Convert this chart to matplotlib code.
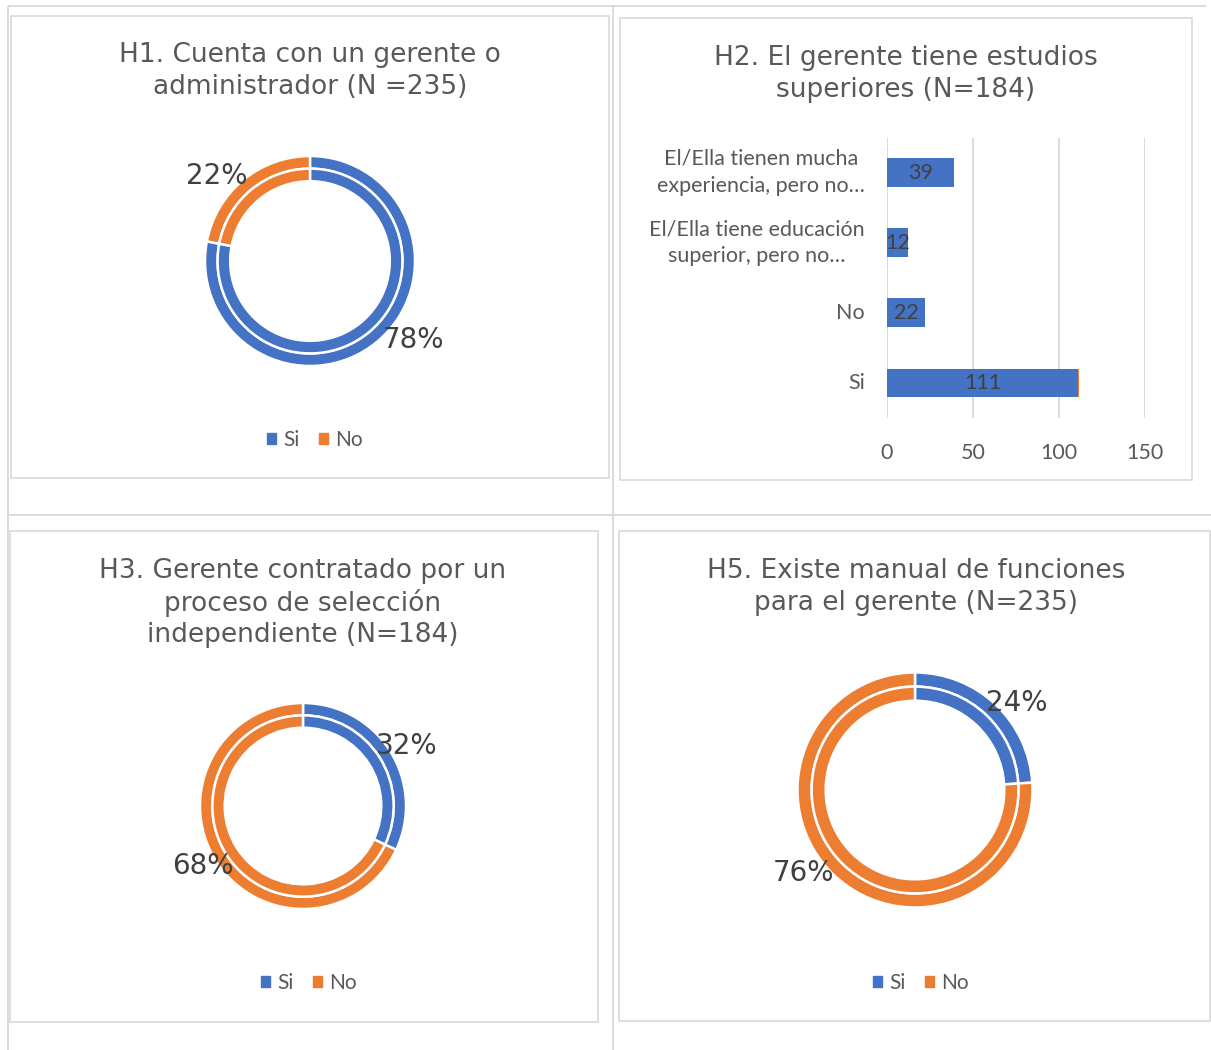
import matplotlib.pyplot as plt
import numpy as np
from matplotlib.patches import Patch, Rectangle

W, H = 1211, 1050
DPI = 100

BLUE = "#4472C4"
ORANGE = "#ED7D31"
LINE = "#D9D9D9"
TITLE_C = "#595959"
LABEL_C = "#404040"
TITLE_FONT = "DejaVu Sans"
BODY_FONT = "Lato"

# ---- data -------------------------------------------------------------
donut_labels = ["Si", "No"]
h1_share = [78, 22]
h3_share = [32, 68]
h5_share = [24, 76]

h1_title = "H1. Cuenta con un gerente o\nadministrador (N =235)"
h2_title = "H2. El gerente tiene estudios\nsuperiores (N=184)"
h3_title = "H3. Gerente contratado por un\nproceso de selección\nindependiente (N=184)"
h5_title = "H5. Existe manual de funciones\npara el gerente (N=235)"

h2_categories = [
    "Si",
    "No",
    "El/Ella tiene educación\nsuperior, pero no…",
    "El/Ella tienen mucha\nexperiencia, pero no…",
]
h2_counts = [111, 22, 12, 39]
h2_other = [0.4, 0, 0, 0]
h2_ticks = [0, 50, 100, 150]

HOLE = 0.76


def px_axes(fig, x0, y0, x1, y1):
    """Axes placed by pixel box (origin top-left)."""
    return fig.add_axes([x0 / W, 1 - y1 / H, (x1 - x0) / W, (y1 - y0) / H])


def draw_donut(fig, cx, cy, radius, shares, label_spots):
    half = 170
    ax = px_axes(fig, cx - half, cy - half, cx + half, cy + half)
    ring = radius * (1 - HOLE) / 2
    for r in (radius, radius - ring):
        ax.pie(
            shares,
            radius=r,
            startangle=90,
            counterclock=False,
            colors=[BLUE, ORANGE],
            wedgeprops={"width": ring, "edgecolor": "white", "linewidth": 1.8},
        )
    ax.set_xlim(-half, half)
    ax.set_ylim(-half, half)
    ax.set_aspect("equal")
    ax.axis("off")

    # labels sit near the middle of each slice, nudged like the original
    total = float(sum(shares))
    start = 90.0
    for share, (dist, nudge) in zip(shares, label_spots):
        mid = start - 360.0 * share / total / 2
        ang = np.deg2rad(mid + nudge)
        ax.text(dist * np.cos(ang), dist * np.sin(ang), f"{share / total:.0%}",
                ha="center", va="center", fontsize=20, color=LABEL_C,
                family=TITLE_FONT)
        start -= 360.0 * share / total
    return ax


def add_legend(fig, cx, cy):
    handles = [Patch(color=BLUE, label=donut_labels[0]),
               Patch(color=ORANGE, label=donut_labels[1])]
    fig.legend(
        handles=handles,
        loc="center",
        bbox_to_anchor=(cx / W, 1 - cy / H),
        ncol=2,
        frameon=False,
        handlelength=0.45,
        handleheight=0.45,
        handletextpad=0.35,
        columnspacing=0.9,
        borderpad=0,
        prop={"family": BODY_FONT, "size": 15},
        labelcolor=TITLE_C,
    )


fig = plt.figure(figsize=(W / DPI, H / DPI), dpi=DPI)
fig.patch.set_facecolor("white")

bg = px_axes(fig, 0, 0, W, H)
bg.set_xlim(0, W)
bg.set_ylim(H, 0)
bg.axis("off")

# table grid of the page
bg.hlines([5.5], 7.5, 1206, color=LINE, lw=1.3)
bg.hlines([515], 7.5, W, color=LINE, lw=1.3)
bg.vlines([7.5, 613], 5.5, H, color=LINE, lw=1.3)

# chart-area frames
for x0, y0, x1, y1 in [(10.5, 15.5, 609, 478), (620, 18, 1192, 480),
                       (9.5, 531, 597.5, 1021.5), (619, 531, 1210, 1021)]:
    bg.add_patch(Rectangle((x0, y0), x1 - x0, y1 - y0, fill=False,
                           edgecolor=LINE, lw=1.2))

# titles
for cx, cy, txt in [(310, 71, h1_title), (906, 74, h2_title),
                    (303, 603, h3_title), (916, 587, h5_title)]:
    bg.text(cx, cy, txt, ha="center", va="center", fontsize=19,
            color=TITLE_C, family=TITLE_FONT, linespacing=1.26)

# ---- donuts -----------------------------------------------------------
draw_donut(fig, 310, 261, 105, h1_share, [(130, 12.9), (126, 8.0)])
draw_donut(fig, 303, 806, 103, h3_share, [(120, -2.4), (117, -1.4)])
draw_donut(fig, 915, 790, 117.5, h5_share, [(134, -6.3), (139, -10.3)])

add_legend(fig, 315, 440)
add_legend(fig, 309, 983)
add_legend(fig, 921, 983)

# ---- H2 horizontal bars -----------------------------------------------
ax = px_axes(fig, 887, 137.5, 1145, 418)
ypos = np.arange(len(h2_categories))
bars = ax.barh(ypos, h2_counts, height=0.41, color=BLUE, zorder=2)
ax.barh(ypos, h2_other, left=h2_counts, height=0.41, color=ORANGE, zorder=2)
ax.bar_label(bars, label_type="center", fontsize=15.5, color=LABEL_C,
             family=BODY_FONT)
ax.set_xlim(h2_ticks[0], h2_ticks[-1])
ax.set_ylim(-0.5, len(h2_categories) - 0.5)
ax.set_xticks(h2_ticks)
ax.set_yticks(ypos)
ax.set_yticklabels(h2_categories, linespacing=1.45, multialignment="center",
                   va="center")
ax.grid(axis="x", color=LINE, lw=1.3, zorder=0)
ax.set_axisbelow(True)
for side in ("top", "right", "bottom", "left"):
    ax.spines[side].set_visible(False)
ax.tick_params(axis="x", length=0, pad=18, labelsize=15.5, labelcolor=TITLE_C)
ax.tick_params(axis="y", length=0, pad=16, labelsize=15.5, labelcolor=TITLE_C)
for t in ax.get_xticklabels() + ax.get_yticklabels():
    t.set_family(BODY_FONT)
ax.set_facecolor("none")

fig.savefig("out.png", dpi=DPI, facecolor="white")
